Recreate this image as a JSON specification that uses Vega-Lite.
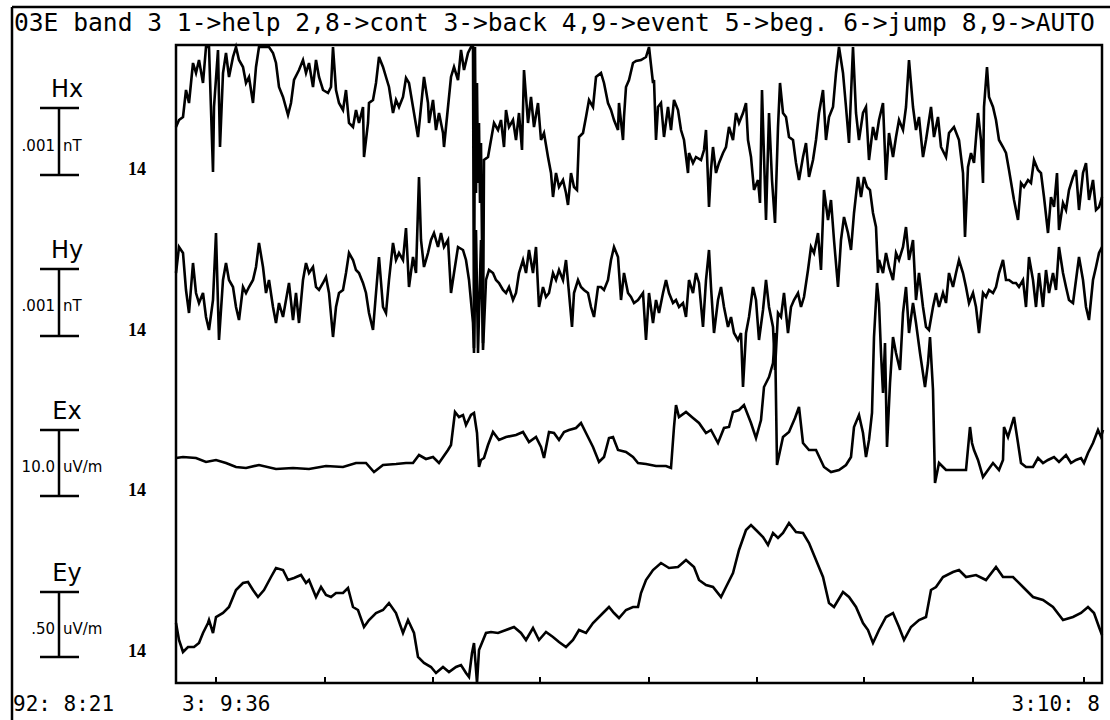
{
"$schema":"https://vega.github.io/schema/vega-lite/v6.json",
"width":926,"height":638,
"autosize":{"type":"none"},
"padding":{"left":176,"top":45,"right":8,"bottom":37},
"background":"white",
"config":{"view":{"stroke":"black","strokeWidth":2.5}},
"datasets":{
"chan":[
{"c":"Hx","s":".001","u":"nT","top":575,"mid":541,"bot":508},
{"c":"Hy","s":".001","u":"nT","top":414,"mid":381,"bot":347},
{"c":"Ex","s":"10.0","u":"uV/m","top":253,"mid":220,"bot":187},
{"c":"Ey","s":".50","u":"uV/m","top":91,"mid":58,"bot":26}],
"ticks":[{"t":40},{"t":149},{"t":257},{"t":364},{"t":473},{"t":581},{"t":688},{"t":797},{"t":908}],
"trace":[
{"c":"Hx","t":0,"v":556},{"c":"Hx","t":3,"v":563},{"c":"Hx","t":7,"v":566},{"c":"Hx","t":10,"v":593},{"c":"Hx","t":13,"v":580},{"c":"Hx","t":17,"v":620},{"c":"Hx","t":20,"v":610},{"c":"Hx","t":23,"v":623},{"c":"Hx","t":27,"v":600},{"c":"Hx","t":30,"v":636},{"c":"Hx","t":33,"v":636},{"c":"Hx","t":37,"v":511},{"c":"Hx","t":38,"v":576},{"c":"Hx","t":42,"v":633},{"c":"Hx","t":44,"v":536},{"c":"Hx","t":47,"v":610},{"c":"Hx","t":50,"v":630},{"c":"Hx","t":53,"v":606},{"c":"Hx","t":57,"v":626},{"c":"Hx","t":60,"v":636},{"c":"Hx","t":63,"v":623},{"c":"Hx","t":67,"v":616},{"c":"Hx","t":70,"v":600},{"c":"Hx","t":73,"v":606},{"c":"Hx","t":77,"v":580},{"c":"Hx","t":80,"v":616},{"c":"Hx","t":83,"v":636},{"c":"Hx","t":93,"v":636},{"c":"Hx","t":97,"v":630},{"c":"Hx","t":100,"v":620},{"c":"Hx","t":103,"v":596},{"c":"Hx","t":107,"v":586},{"c":"Hx","t":112,"v":568},{"c":"Hx","t":115,"v":580},{"c":"Hx","t":118,"v":603},{"c":"Hx","t":123,"v":613},{"c":"Hx","t":127,"v":623},{"c":"Hx","t":130,"v":610},{"c":"Hx","t":133,"v":620},{"c":"Hx","t":137,"v":596},{"c":"Hx","t":140,"v":623},{"c":"Hx","t":143,"v":606},{"c":"Hx","t":147,"v":593},{"c":"Hx","t":152,"v":590},{"c":"Hx","t":155,"v":596},{"c":"Hx","t":157,"v":636},{"c":"Hx","t":160,"v":593},{"c":"Hx","t":163,"v":580},{"c":"Hx","t":167,"v":573},{"c":"Hx","t":170,"v":593},{"c":"Hx","t":173,"v":560},{"c":"Hx","t":177,"v":556},{"c":"Hx","t":180,"v":573},{"c":"Hx","t":183,"v":560},{"c":"Hx","t":187,"v":576},{"c":"Hx","t":188,"v":526},{"c":"Hx","t":192,"v":560},{"c":"Hx","t":193,"v":580},{"c":"Hx","t":197,"v":583},{"c":"Hx","t":200,"v":600},{"c":"Hx","t":203,"v":626},{"c":"Hx","t":207,"v":616},{"c":"Hx","t":210,"v":606},{"c":"Hx","t":213,"v":596},{"c":"Hx","t":217,"v":570},{"c":"Hx","t":220,"v":583},{"c":"Hx","t":223,"v":576},{"c":"Hx","t":227,"v":586},{"c":"Hx","t":230,"v":605},{"c":"Hx","t":233,"v":600},{"c":"Hx","t":237,"v":576},{"c":"Hx","t":242,"v":546},{"c":"Hx","t":245,"v":576},{"c":"Hx","t":248,"v":606},{"c":"Hx","t":252,"v":580},{"c":"Hx","t":253,"v":560},{"c":"Hx","t":257,"v":583},{"c":"Hx","t":260,"v":553},{"c":"Hx","t":263,"v":570},{"c":"Hx","t":267,"v":550},{"c":"Hx","t":268,"v":536},{"c":"Hx","t":272,"v":576},{"c":"Hx","t":275,"v":606},{"c":"Hx","t":278,"v":616},{"c":"Hx","t":282,"v":603},{"c":"Hx","t":285,"v":633},{"c":"Hx","t":288,"v":613},{"c":"Hx","t":292,"v":630},{"c":"Hx","t":295,"v":636},{"c":"Hx","t":297,"v":636},{"c":"Hx","t":298,"v":335},{"c":"Hx","t":299,"v":636},{"c":"Hx","t":300,"v":490},{"c":"Hx","t":301,"v":600},{"c":"Hx","t":302,"v":500},{"c":"Hx","t":303,"v":560},{"c":"Hx","t":304,"v":480},{"c":"Hx","t":305,"v":540},{"c":"Hx","t":307,"v":340},{"c":"Hx","t":308,"v":523},{"c":"Hx","t":312,"v":526},{"c":"Hx","t":315,"v":543},{"c":"Hx","t":318,"v":560},{"c":"Hx","t":322,"v":553},{"c":"Hx","t":325,"v":563},{"c":"Hx","t":328,"v":536},{"c":"Hx","t":330,"v":573},{"c":"Hx","t":333,"v":556},{"c":"Hx","t":337,"v":563},{"c":"Hx","t":340,"v":543},{"c":"Hx","t":343,"v":570},{"c":"Hx","t":346,"v":533},{"c":"Hx","t":348,"v":613},{"c":"Hx","t":352,"v":560},{"c":"Hx","t":355,"v":586},{"c":"Hx","t":358,"v":556},{"c":"Hx","t":362,"v":580},{"c":"Hx","t":365,"v":543},{"c":"Hx","t":368,"v":550},{"c":"Hx","t":372,"v":526},{"c":"Hx","t":375,"v":510},{"c":"Hx","t":377,"v":486},{"c":"Hx","t":380,"v":510},{"c":"Hx","t":383,"v":496},{"c":"Hx","t":387,"v":503},{"c":"Hx","t":390,"v":490},{"c":"Hx","t":392,"v":478},{"c":"Hx","t":395,"v":510},{"c":"Hx","t":398,"v":496},{"c":"Hx","t":401,"v":493},{"c":"Hx","t":403,"v":546},{"c":"Hx","t":407,"v":550},{"c":"Hx","t":410,"v":566},{"c":"Hx","t":413,"v":583},{"c":"Hx","t":417,"v":576},{"c":"Hx","t":420,"v":606},{"c":"Hx","t":425,"v":610},{"c":"Hx","t":428,"v":600},{"c":"Hx","t":432,"v":580},{"c":"Hx","t":435,"v":573},{"c":"Hx","t":438,"v":563},{"c":"Hx","t":442,"v":553},{"c":"Hx","t":443,"v":580},{"c":"Hx","t":447,"v":543},{"c":"Hx","t":448,"v":566},{"c":"Hx","t":450,"v":596},{"c":"Hx","t":453,"v":603},{"c":"Hx","t":457,"v":620},{"c":"Hx","t":460,"v":622},{"c":"Hx","t":465,"v":623},{"c":"Hx","t":470,"v":626},{"c":"Hx","t":473,"v":636},{"c":"Hx","t":477,"v":600},{"c":"Hx","t":478,"v":603},{"c":"Hx","t":480,"v":543},{"c":"Hx","t":482,"v":576},{"c":"Hx","t":485,"v":580},{"c":"Hx","t":488,"v":546},{"c":"Hx","t":492,"v":576},{"c":"Hx","t":495,"v":553},{"c":"Hx","t":498,"v":583},{"c":"Hx","t":502,"v":573},{"c":"Hx","t":505,"v":553},{"c":"Hx","t":508,"v":543},{"c":"Hx","t":512,"v":510},{"c":"Hx","t":513,"v":530},{"c":"Hx","t":517,"v":520},{"c":"Hx","t":520,"v":526},{"c":"Hx","t":525,"v":523},{"c":"Hx","t":528,"v":533},{"c":"Hx","t":530,"v":553},{"c":"Hx","t":532,"v":503},{"c":"Hx","t":533,"v":476},{"c":"Hx","t":535,"v":513},{"c":"Hx","t":537,"v":536},{"c":"Hx","t":540,"v":510},{"c":"Hx","t":543,"v":520},{"c":"Hx","t":547,"v":530},{"c":"Hx","t":550,"v":536},{"c":"Hx","t":553,"v":556},{"c":"Hx","t":557,"v":543},{"c":"Hx","t":560,"v":570},{"c":"Hx","t":563,"v":560},{"c":"Hx","t":567,"v":570},{"c":"Hx","t":570,"v":580},{"c":"Hx","t":572,"v":543},{"c":"Hx","t":575,"v":526},{"c":"Hx","t":578,"v":493},{"c":"Hx","t":582,"v":503},{"c":"Hx","t":584,"v":480},{"c":"Hx","t":586,"v":593},{"c":"Hx","t":588,"v":526},{"c":"Hx","t":590,"v":463},{"c":"Hx","t":593,"v":570},{"c":"Hx","t":596,"v":503},{"c":"Hx","t":599,"v":460},{"c":"Hx","t":602,"v":556},{"c":"Hx","t":604,"v":600},{"c":"Hx","t":607,"v":570},{"c":"Hx","t":610,"v":566},{"c":"Hx","t":613,"v":546},{"c":"Hx","t":617,"v":543},{"c":"Hx","t":620,"v":520},{"c":"Hx","t":623,"v":503},{"c":"Hx","t":627,"v":526},{"c":"Hx","t":630,"v":540},{"c":"Hx","t":633,"v":506},{"c":"Hx","t":637,"v":523},{"c":"Hx","t":640,"v":543},{"c":"Hx","t":643,"v":570},{"c":"Hx","t":647,"v":593},{"c":"Hx","t":650,"v":543},{"c":"Hx","t":653,"v":566},{"c":"Hx","t":657,"v":576},{"c":"Hx","t":660,"v":610},{"c":"Hx","t":663,"v":636},{"c":"Hx","t":667,"v":610},{"c":"Hx","t":670,"v":576},{"c":"Hx","t":673,"v":540},{"c":"Hx","t":677,"v":636},{"c":"Hx","t":680,"v":570},{"c":"Hx","t":683,"v":543},{"c":"Hx","t":687,"v":570},{"c":"Hx","t":690,"v":576},{"c":"Hx","t":693,"v":523},{"c":"Hx","t":697,"v":556},{"c":"Hx","t":700,"v":543},{"c":"Hx","t":703,"v":563},{"c":"Hx","t":707,"v":580},{"c":"Hx","t":710,"v":503},{"c":"Hx","t":713,"v":550},{"c":"Hx","t":717,"v":526},{"c":"Hx","t":720,"v":546},{"c":"Hx","t":723,"v":563},{"c":"Hx","t":727,"v":553},{"c":"Hx","t":730,"v":576},{"c":"Hx","t":733,"v":623},{"c":"Hx","t":737,"v":576},{"c":"Hx","t":740,"v":553},{"c":"Hx","t":743,"v":566},{"c":"Hx","t":747,"v":526},{"c":"Hx","t":750,"v":543},{"c":"Hx","t":755,"v":576},{"c":"Hx","t":758,"v":546},{"c":"Hx","t":762,"v":566},{"c":"Hx","t":765,"v":536},{"c":"Hx","t":770,"v":526},{"c":"Hx","t":773,"v":550},{"c":"Hx","t":778,"v":556},{"c":"Hx","t":783,"v":543},{"c":"Hx","t":787,"v":510},{"c":"Hx","t":789,"v":446},{"c":"Hx","t":792,"v":516},{"c":"Hx","t":795,"v":530},{"c":"Hx","t":798,"v":520},{"c":"Hx","t":802,"v":570},{"c":"Hx","t":805,"v":543},{"c":"Hx","t":807,"v":500},{"c":"Hx","t":808,"v":576},{"c":"Hx","t":811,"v":616},{"c":"Hx","t":813,"v":586},{"c":"Hx","t":817,"v":576},{"c":"Hx","t":820,"v":563},{"c":"Hx","t":823,"v":543},{"c":"Hx","t":827,"v":536},{"c":"Hx","t":830,"v":530},{"c":"Hx","t":833,"v":513},{"c":"Hx","t":838,"v":483},{"c":"Hx","t":842,"v":463},{"c":"Hx","t":845,"v":500},{"c":"Hx","t":848,"v":496},{"c":"Hx","t":852,"v":503},{"c":"Hx","t":855,"v":500},{"c":"Hx","t":858,"v":523},{"c":"Hx","t":862,"v":513},{"c":"Hx","t":865,"v":510},{"c":"Hx","t":868,"v":486},{"c":"Hx","t":872,"v":450},{"c":"Hx","t":875,"v":486},{"c":"Hx","t":878,"v":476},{"c":"Hx","t":881,"v":510},{"c":"Hx","t":883,"v":453},{"c":"Hx","t":887,"v":480},{"c":"Hx","t":890,"v":473},{"c":"Hx","t":893,"v":493},{"c":"Hx","t":897,"v":506},{"c":"Hx","t":900,"v":513},{"c":"Hx","t":903,"v":473},{"c":"Hx","t":907,"v":510},{"c":"Hx","t":910,"v":520},{"c":"Hx","t":913,"v":483},{"c":"Hx","t":917,"v":503},{"c":"Hx","t":920,"v":473},{"c":"Hx","t":923,"v":476},{"c":"Hx","t":926,"v":486},
{"c":"Hy","t":0,"v":410},{"c":"Hy","t":3,"v":436},{"c":"Hy","t":7,"v":430},{"c":"Hy","t":10,"v":393},{"c":"Hy","t":13,"v":370},{"c":"Hy","t":17,"v":420},{"c":"Hy","t":20,"v":390},{"c":"Hy","t":23,"v":380},{"c":"Hy","t":27,"v":390},{"c":"Hy","t":30,"v":366},{"c":"Hy","t":33,"v":353},{"c":"Hy","t":37,"v":383},{"c":"Hy","t":40,"v":450},{"c":"Hy","t":43,"v":343},{"c":"Hy","t":47,"v":403},{"c":"Hy","t":50,"v":420},{"c":"Hy","t":53,"v":403},{"c":"Hy","t":57,"v":396},{"c":"Hy","t":60,"v":376},{"c":"Hy","t":63,"v":363},{"c":"Hy","t":67,"v":396},{"c":"Hy","t":70,"v":390},{"c":"Hy","t":73,"v":396},{"c":"Hy","t":77,"v":403},{"c":"Hy","t":80,"v":416},{"c":"Hy","t":83,"v":440},{"c":"Hy","t":87,"v":416},{"c":"Hy","t":90,"v":390},{"c":"Hy","t":93,"v":403},{"c":"Hy","t":97,"v":376},{"c":"Hy","t":100,"v":360},{"c":"Hy","t":103,"v":380},{"c":"Hy","t":107,"v":366},{"c":"Hy","t":110,"v":383},{"c":"Hy","t":113,"v":400},{"c":"Hy","t":117,"v":363},{"c":"Hy","t":120,"v":390},{"c":"Hy","t":123,"v":360},{"c":"Hy","t":127,"v":403},{"c":"Hy","t":130,"v":420},{"c":"Hy","t":133,"v":410},{"c":"Hy","t":137,"v":416},{"c":"Hy","t":140,"v":396},{"c":"Hy","t":143,"v":393},{"c":"Hy","t":147,"v":400},{"c":"Hy","t":150,"v":406},{"c":"Hy","t":153,"v":390},{"c":"Hy","t":157,"v":346},{"c":"Hy","t":160,"v":376},{"c":"Hy","t":163,"v":390},{"c":"Hy","t":167,"v":393},{"c":"Hy","t":170,"v":410},{"c":"Hy","t":173,"v":430},{"c":"Hy","t":177,"v":423},{"c":"Hy","t":180,"v":413},{"c":"Hy","t":183,"v":410},{"c":"Hy","t":187,"v":400},{"c":"Hy","t":190,"v":390},{"c":"Hy","t":193,"v":370},{"c":"Hy","t":197,"v":353},{"c":"Hy","t":200,"v":390},{"c":"Hy","t":203,"v":426},{"c":"Hy","t":207,"v":376},{"c":"Hy","t":210,"v":370},{"c":"Hy","t":213,"v":403},{"c":"Hy","t":217,"v":440},{"c":"Hy","t":220,"v":423},{"c":"Hy","t":223,"v":430},{"c":"Hy","t":227,"v":423},{"c":"Hy","t":230,"v":455},{"c":"Hy","t":233,"v":396},{"c":"Hy","t":237,"v":426},{"c":"Hy","t":240,"v":410},{"c":"Hy","t":243,"v":506},{"c":"Hy","t":245,"v":443},{"c":"Hy","t":248,"v":416},{"c":"Hy","t":252,"v":430},{"c":"Hy","t":255,"v":443},{"c":"Hy","t":258,"v":450},{"c":"Hy","t":262,"v":436},{"c":"Hy","t":265,"v":450},{"c":"Hy","t":268,"v":436},{"c":"Hy","t":272,"v":443},{"c":"Hy","t":275,"v":390},{"c":"Hy","t":278,"v":410},{"c":"Hy","t":282,"v":436},{"c":"Hy","t":287,"v":433},{"c":"Hy","t":290,"v":423},{"c":"Hy","t":293,"v":403},{"c":"Hy","t":297,"v":360},{"c":"Hy","t":298,"v":330},{"c":"Hy","t":300,"v":453},{"c":"Hy","t":302,"v":330},{"c":"Hy","t":305,"v":443},{"c":"Hy","t":307,"v":333},{"c":"Hy","t":310,"v":403},{"c":"Hy","t":313,"v":413},{"c":"Hy","t":317,"v":410},{"c":"Hy","t":320,"v":403},{"c":"Hy","t":323,"v":400},{"c":"Hy","t":327,"v":393},{"c":"Hy","t":330,"v":390},{"c":"Hy","t":333,"v":396},{"c":"Hy","t":337,"v":383},{"c":"Hy","t":340,"v":390},{"c":"Hy","t":343,"v":410},{"c":"Hy","t":347,"v":423},{"c":"Hy","t":350,"v":410},{"c":"Hy","t":353,"v":433},{"c":"Hy","t":357,"v":410},{"c":"Hy","t":360,"v":436},{"c":"Hy","t":363,"v":376},{"c":"Hy","t":367,"v":396},{"c":"Hy","t":370,"v":386},{"c":"Hy","t":373,"v":390},{"c":"Hy","t":377,"v":410},{"c":"Hy","t":380,"v":403},{"c":"Hy","t":383,"v":413},{"c":"Hy","t":387,"v":403},{"c":"Hy","t":390,"v":423},{"c":"Hy","t":393,"v":390},{"c":"Hy","t":396,"v":356},{"c":"Hy","t":398,"v":390},{"c":"Hy","t":402,"v":403},{"c":"Hy","t":405,"v":396},{"c":"Hy","t":408,"v":393},{"c":"Hy","t":412,"v":390},{"c":"Hy","t":415,"v":376},{"c":"Hy","t":418,"v":366},{"c":"Hy","t":422,"v":396},{"c":"Hy","t":425,"v":396},{"c":"Hy","t":428,"v":393},{"c":"Hy","t":432,"v":403},{"c":"Hy","t":435,"v":423},{"c":"Hy","t":438,"v":436},{"c":"Hy","t":442,"v":426},{"c":"Hy","t":445,"v":383},{"c":"Hy","t":448,"v":410},{"c":"Hy","t":452,"v":390},{"c":"Hy","t":455,"v":386},{"c":"Hy","t":458,"v":380},{"c":"Hy","t":462,"v":383},{"c":"Hy","t":467,"v":390},{"c":"Hy","t":470,"v":343},{"c":"Hy","t":473,"v":390},{"c":"Hy","t":477,"v":360},{"c":"Hy","t":480,"v":383},{"c":"Hy","t":483,"v":370},{"c":"Hy","t":487,"v":390},{"c":"Hy","t":490,"v":403},{"c":"Hy","t":493,"v":390},{"c":"Hy","t":497,"v":380},{"c":"Hy","t":500,"v":383},{"c":"Hy","t":503,"v":376},{"c":"Hy","t":507,"v":380},{"c":"Hy","t":510,"v":366},{"c":"Hy","t":513,"v":403},{"c":"Hy","t":517,"v":390},{"c":"Hy","t":520,"v":410},{"c":"Hy","t":523,"v":400},{"c":"Hy","t":527,"v":356},{"c":"Hy","t":530,"v":403},{"c":"Hy","t":533,"v":433},{"c":"Hy","t":535,"v":396},{"c":"Hy","t":538,"v":350},{"c":"Hy","t":542,"v":383},{"c":"Hy","t":545,"v":396},{"c":"Hy","t":548,"v":376},{"c":"Hy","t":552,"v":356},{"c":"Hy","t":555,"v":366},{"c":"Hy","t":558,"v":350},{"c":"Hy","t":562,"v":343},{"c":"Hy","t":565,"v":350},{"c":"Hy","t":567,"v":296},{"c":"Hy","t":570,"v":350},{"c":"Hy","t":573,"v":366},{"c":"Hy","t":577,"v":396},{"c":"Hy","t":580,"v":383},{"c":"Hy","t":583,"v":343},{"c":"Hy","t":587,"v":373},{"c":"Hy","t":590,"v":403},{"c":"Hy","t":593,"v":376},{"c":"Hy","t":597,"v":356},{"c":"Hy","t":599,"v":313},{"c":"Hy","t":602,"v":370},{"c":"Hy","t":605,"v":366},{"c":"Hy","t":608,"v":390},{"c":"Hy","t":612,"v":350},{"c":"Hy","t":615,"v":376},{"c":"Hy","t":618,"v":383},{"c":"Hy","t":622,"v":390},{"c":"Hy","t":625,"v":376},{"c":"Hy","t":628,"v":386},{"c":"Hy","t":632,"v":413},{"c":"Hy","t":635,"v":436},{"c":"Hy","t":638,"v":430},{"c":"Hy","t":642,"v":450},{"c":"Hy","t":645,"v":413},{"c":"Hy","t":648,"v":493},{"c":"Hy","t":652,"v":463},{"c":"Hy","t":655,"v":483},{"c":"Hy","t":658,"v":443},{"c":"Hy","t":662,"v":396},{"c":"Hy","t":665,"v":443},{"c":"Hy","t":668,"v":466},{"c":"Hy","t":672,"v":450},{"c":"Hy","t":675,"v":433},{"c":"Hy","t":678,"v":470},{"c":"Hy","t":682,"v":506},{"c":"Hy","t":685,"v":486},{"c":"Hy","t":688,"v":506},{"c":"Hy","t":691,"v":496},{"c":"Hy","t":694,"v":493},{"c":"Hy","t":697,"v":470},{"c":"Hy","t":700,"v":456},{"c":"Hy","t":702,"v":410},{"c":"Hy","t":703,"v":423},{"c":"Hy","t":707,"v":410},{"c":"Hy","t":710,"v":430},{"c":"Hy","t":713,"v":416},{"c":"Hy","t":717,"v":403},{"c":"Hy","t":720,"v":430},{"c":"Hy","t":723,"v":423},{"c":"Hy","t":727,"v":436},{"c":"Hy","t":730,"v":456},{"c":"Hy","t":733,"v":423},{"c":"Hy","t":737,"v":443},{"c":"Hy","t":740,"v":383},{"c":"Hy","t":743,"v":410},{"c":"Hy","t":747,"v":376},{"c":"Hy","t":750,"v":356},{"c":"Hy","t":753,"v":353},{"c":"Hy","t":757,"v":376},{"c":"Hy","t":760,"v":390},{"c":"Hy","t":763,"v":376},{"c":"Hy","t":767,"v":390},{"c":"Hy","t":770,"v":380},{"c":"Hy","t":773,"v":410},{"c":"Hy","t":777,"v":396},{"c":"Hy","t":780,"v":410},{"c":"Hy","t":783,"v":423},{"c":"Hy","t":787,"v":410},{"c":"Hy","t":790,"v":396},{"c":"Hy","t":793,"v":380},{"c":"Hy","t":797,"v":390},{"c":"Hy","t":800,"v":376},{"c":"Hy","t":803,"v":350},{"c":"Hy","t":807,"v":390},{"c":"Hy","t":810,"v":386},{"c":"Hy","t":813,"v":393},{"c":"Hy","t":817,"v":390},{"c":"Hy","t":820,"v":396},{"c":"Hy","t":823,"v":410},{"c":"Hy","t":827,"v":423},{"c":"Hy","t":830,"v":403},{"c":"Hy","t":833,"v":403},{"c":"Hy","t":837,"v":400},{"c":"Hy","t":840,"v":400},{"c":"Hy","t":843,"v":396},{"c":"Hy","t":847,"v":403},{"c":"Hy","t":850,"v":376},{"c":"Hy","t":853,"v":426},{"c":"Hy","t":857,"v":403},{"c":"Hy","t":860,"v":376},{"c":"Hy","t":863,"v":410},{"c":"Hy","t":867,"v":376},{"c":"Hy","t":870,"v":413},{"c":"Hy","t":873,"v":390},{"c":"Hy","t":877,"v":410},{"c":"Hy","t":880,"v":393},{"c":"Hy","t":883,"v":436},{"c":"Hy","t":887,"v":410},{"c":"Hy","t":890,"v":396},{"c":"Hy","t":893,"v":383},{"c":"Hy","t":897,"v":380},{"c":"Hy","t":900,"v":403},{"c":"Hy","t":903,"v":426},{"c":"Hy","t":907,"v":403},{"c":"Hy","t":910,"v":376},{"c":"Hy","t":913,"v":363},{"c":"Hy","t":917,"v":403},{"c":"Hy","t":920,"v":416},{"c":"Hy","t":923,"v":430},{"c":"Hy","t":926,"v":436},
{"c":"Ex","t":0,"v":225},{"c":"Ex","t":7,"v":226},{"c":"Ex","t":20,"v":225},{"c":"Ex","t":30,"v":221},{"c":"Ex","t":40,"v":223},{"c":"Ex","t":50,"v":220},{"c":"Ex","t":60,"v":216},{"c":"Ex","t":70,"v":215},{"c":"Ex","t":83,"v":218},{"c":"Ex","t":100,"v":214},{"c":"Ex","t":117,"v":215},{"c":"Ex","t":133,"v":214},{"c":"Ex","t":150,"v":217},{"c":"Ex","t":167,"v":216},{"c":"Ex","t":180,"v":220},{"c":"Ex","t":190,"v":220},{"c":"Ex","t":198,"v":211},{"c":"Ex","t":207,"v":218},{"c":"Ex","t":220,"v":219},{"c":"Ex","t":230,"v":220},{"c":"Ex","t":237,"v":220},{"c":"Ex","t":243,"v":228},{"c":"Ex","t":250,"v":224},{"c":"Ex","t":257,"v":226},{"c":"Ex","t":263,"v":220},{"c":"Ex","t":272,"v":233},{"c":"Ex","t":275,"v":238},{"c":"Ex","t":279,"v":271},{"c":"Ex","t":283,"v":266},{"c":"Ex","t":287,"v":268},{"c":"Ex","t":290,"v":258},{"c":"Ex","t":295,"v":268},{"c":"Ex","t":298,"v":270},{"c":"Ex","t":301,"v":250},{"c":"Ex","t":303,"v":216},{"c":"Ex","t":305,"v":223},{"c":"Ex","t":308,"v":225},{"c":"Ex","t":312,"v":238},{"c":"Ex","t":317,"v":251},{"c":"Ex","t":323,"v":243},{"c":"Ex","t":330,"v":246},{"c":"Ex","t":340,"v":248},{"c":"Ex","t":347,"v":251},{"c":"Ex","t":353,"v":241},{"c":"Ex","t":360,"v":246},{"c":"Ex","t":365,"v":236},{"c":"Ex","t":368,"v":225},{"c":"Ex","t":373,"v":251},{"c":"Ex","t":378,"v":250},{"c":"Ex","t":383,"v":243},{"c":"Ex","t":388,"v":251},{"c":"Ex","t":393,"v":253},{"c":"Ex","t":400,"v":255},{"c":"Ex","t":405,"v":260},{"c":"Ex","t":410,"v":250},{"c":"Ex","t":417,"v":236},{"c":"Ex","t":423,"v":221},{"c":"Ex","t":428,"v":226},{"c":"Ex","t":433,"v":245},{"c":"Ex","t":437,"v":246},{"c":"Ex","t":442,"v":233},{"c":"Ex","t":450,"v":231},{"c":"Ex","t":457,"v":226},{"c":"Ex","t":462,"v":220},{"c":"Ex","t":470,"v":219},{"c":"Ex","t":480,"v":217},{"c":"Ex","t":490,"v":217},{"c":"Ex","t":495,"v":215},{"c":"Ex","t":498,"v":256},{"c":"Ex","t":500,"v":278},{"c":"Ex","t":503,"v":266},{"c":"Ex","t":510,"v":271},{"c":"Ex","t":517,"v":265},{"c":"Ex","t":523,"v":260},{"c":"Ex","t":530,"v":250},{"c":"Ex","t":535,"v":253},{"c":"Ex","t":542,"v":240},{"c":"Ex","t":548,"v":255},{"c":"Ex","t":553,"v":256},{"c":"Ex","t":557,"v":271},{"c":"Ex","t":563,"v":273},{"c":"Ex","t":568,"v":278},{"c":"Ex","t":575,"v":260},{"c":"Ex","t":580,"v":245},{"c":"Ex","t":585,"v":263},{"c":"Ex","t":588,"v":296},{"c":"Ex","t":593,"v":306},{"c":"Ex","t":597,"v":320},{"c":"Ex","t":599,"v":350},{"c":"Ex","t":601,"v":218},{"c":"Ex","t":607,"v":246},{"c":"Ex","t":613,"v":251},{"c":"Ex","t":619,"v":265},{"c":"Ex","t":623,"v":276},{"c":"Ex","t":627,"v":240},{"c":"Ex","t":633,"v":233},{"c":"Ex","t":640,"v":233},{"c":"Ex","t":648,"v":216},{"c":"Ex","t":655,"v":211},{"c":"Ex","t":663,"v":213},{"c":"Ex","t":670,"v":218},{"c":"Ex","t":675,"v":226},{"c":"Ex","t":678,"v":256},{"c":"Ex","t":683,"v":268},{"c":"Ex","t":687,"v":250},{"c":"Ex","t":690,"v":226},{"c":"Ex","t":693,"v":243},{"c":"Ex","t":696,"v":270},{"c":"Ex","t":698,"v":346},{"c":"Ex","t":701,"v":400},{"c":"Ex","t":703,"v":380},{"c":"Ex","t":705,"v":330},{"c":"Ex","t":707,"v":290},{"c":"Ex","t":709,"v":340},{"c":"Ex","t":711,"v":236},{"c":"Ex","t":714,"v":300},{"c":"Ex","t":717,"v":346},{"c":"Ex","t":720,"v":330},{"c":"Ex","t":724,"v":313},{"c":"Ex","t":727,"v":370},{"c":"Ex","t":730,"v":396},{"c":"Ex","t":733,"v":350},{"c":"Ex","t":737,"v":380},{"c":"Ex","t":740,"v":360},{"c":"Ex","t":744,"v":330},{"c":"Ex","t":749,"v":296},{"c":"Ex","t":752,"v":320},{"c":"Ex","t":754,"v":346},{"c":"Ex","t":757,"v":293},{"c":"Ex","t":759,"v":200},{"c":"Ex","t":763,"v":220},{"c":"Ex","t":770,"v":213},{"c":"Ex","t":780,"v":213},{"c":"Ex","t":790,"v":213},{"c":"Ex","t":794,"v":256},{"c":"Ex","t":796,"v":240},{"c":"Ex","t":798,"v":233},{"c":"Ex","t":802,"v":223},{"c":"Ex","t":807,"v":206},{"c":"Ex","t":812,"v":213},{"c":"Ex","t":817,"v":220},{"c":"Ex","t":823,"v":213},{"c":"Ex","t":827,"v":223},{"c":"Ex","t":828,"v":256},{"c":"Ex","t":832,"v":246},{"c":"Ex","t":835,"v":256},{"c":"Ex","t":838,"v":266},{"c":"Ex","t":842,"v":240},{"c":"Ex","t":845,"v":220},{"c":"Ex","t":850,"v":216},{"c":"Ex","t":857,"v":216},{"c":"Ex","t":862,"v":225},{"c":"Ex","t":867,"v":220},{"c":"Ex","t":872,"v":223},{"c":"Ex","t":878,"v":226},{"c":"Ex","t":883,"v":221},{"c":"Ex","t":890,"v":228},{"c":"Ex","t":895,"v":220},{"c":"Ex","t":900,"v":223},{"c":"Ex","t":905,"v":225},{"c":"Ex","t":908,"v":220},{"c":"Ex","t":912,"v":230},{"c":"Ex","t":917,"v":240},{"c":"Ex","t":922,"v":253},{"c":"Ex","t":925,"v":246},{"c":"Ex","t":927,"v":253},
{"c":"Ey","t":0,"v":60},{"c":"Ey","t":3,"v":43},{"c":"Ey","t":7,"v":31},{"c":"Ey","t":12,"v":36},{"c":"Ey","t":18,"v":36},{"c":"Ey","t":23,"v":40},{"c":"Ey","t":27,"v":50},{"c":"Ey","t":32,"v":60},{"c":"Ey","t":33,"v":63},{"c":"Ey","t":37,"v":50},{"c":"Ey","t":40,"v":66},{"c":"Ey","t":47,"v":70},{"c":"Ey","t":53,"v":76},{"c":"Ey","t":60,"v":93},{"c":"Ey","t":67,"v":100},{"c":"Ey","t":72,"v":101},{"c":"Ey","t":77,"v":93},{"c":"Ey","t":82,"v":86},{"c":"Ey","t":88,"v":93},{"c":"Ey","t":95,"v":106},{"c":"Ey","t":100,"v":115},{"c":"Ey","t":107,"v":113},{"c":"Ey","t":112,"v":103},{"c":"Ey","t":118,"v":105},{"c":"Ey","t":125,"v":108},{"c":"Ey","t":130,"v":100},{"c":"Ey","t":133,"v":103},{"c":"Ey","t":140,"v":86},{"c":"Ey","t":145,"v":96},{"c":"Ey","t":150,"v":88},{"c":"Ey","t":155,"v":86},{"c":"Ey","t":160,"v":90},{"c":"Ey","t":167,"v":90},{"c":"Ey","t":172,"v":95},{"c":"Ey","t":177,"v":76},{"c":"Ey","t":182,"v":73},{"c":"Ey","t":188,"v":56},{"c":"Ey","t":193,"v":63},{"c":"Ey","t":200,"v":70},{"c":"Ey","t":207,"v":73},{"c":"Ey","t":213,"v":80},{"c":"Ey","t":220,"v":70},{"c":"Ey","t":227,"v":50},{"c":"Ey","t":232,"v":63},{"c":"Ey","t":238,"v":50},{"c":"Ey","t":242,"v":26},{"c":"Ey","t":248,"v":20},{"c":"Ey","t":255,"v":16},{"c":"Ey","t":260,"v":10},{"c":"Ey","t":267,"v":16},{"c":"Ey","t":273,"v":11},{"c":"Ey","t":280,"v":16},{"c":"Ey","t":285,"v":18},{"c":"Ey","t":290,"v":10},{"c":"Ey","t":293,"v":6},{"c":"Ey","t":296,"v":30},{"c":"Ey","t":298,"v":40},{"c":"Ey","t":301,"v":0},{"c":"Ey","t":303,"v":33},{"c":"Ey","t":310,"v":50},{"c":"Ey","t":315,"v":51},{"c":"Ey","t":322,"v":50},{"c":"Ey","t":330,"v":53},{"c":"Ey","t":338,"v":56},{"c":"Ey","t":345,"v":50},{"c":"Ey","t":350,"v":43},{"c":"Ey","t":357,"v":55},{"c":"Ey","t":363,"v":43},{"c":"Ey","t":370,"v":51},{"c":"Ey","t":377,"v":46},{"c":"Ey","t":383,"v":41},{"c":"Ey","t":390,"v":36},{"c":"Ey","t":397,"v":43},{"c":"Ey","t":403,"v":53},{"c":"Ey","t":410,"v":50},{"c":"Ey","t":417,"v":60},{"c":"Ey","t":427,"v":70},{"c":"Ey","t":433,"v":76},{"c":"Ey","t":438,"v":70},{"c":"Ey","t":443,"v":65},{"c":"Ey","t":450,"v":73},{"c":"Ey","t":457,"v":76},{"c":"Ey","t":462,"v":76},{"c":"Ey","t":465,"v":90},{"c":"Ey","t":470,"v":103},{"c":"Ey","t":477,"v":113},{"c":"Ey","t":485,"v":120},{"c":"Ey","t":493,"v":115},{"c":"Ey","t":502,"v":116},{"c":"Ey","t":510,"v":123},{"c":"Ey","t":518,"v":116},{"c":"Ey","t":523,"v":103},{"c":"Ey","t":530,"v":98},{"c":"Ey","t":537,"v":96},{"c":"Ey","t":545,"v":86},{"c":"Ey","t":550,"v":96},{"c":"Ey","t":557,"v":110},{"c":"Ey","t":563,"v":133},{"c":"Ey","t":570,"v":153},{"c":"Ey","t":575,"v":158},{"c":"Ey","t":580,"v":153},{"c":"Ey","t":587,"v":146},{"c":"Ey","t":592,"v":138},{"c":"Ey","t":597,"v":150},{"c":"Ey","t":602,"v":145},{"c":"Ey","t":607,"v":150},{"c":"Ey","t":613,"v":160},{"c":"Ey","t":620,"v":151},{"c":"Ey","t":627,"v":150},{"c":"Ey","t":633,"v":140},{"c":"Ey","t":640,"v":123},{"c":"Ey","t":647,"v":106},{"c":"Ey","t":653,"v":80},{"c":"Ey","t":658,"v":76},{"c":"Ey","t":667,"v":91},{"c":"Ey","t":673,"v":86},{"c":"Ey","t":680,"v":76},{"c":"Ey","t":687,"v":60},{"c":"Ey","t":692,"v":53},{"c":"Ey","t":697,"v":40},{"c":"Ey","t":703,"v":53},{"c":"Ey","t":710,"v":66},{"c":"Ey","t":717,"v":70},{"c":"Ey","t":723,"v":56},{"c":"Ey","t":728,"v":43},{"c":"Ey","t":735,"v":56},{"c":"Ey","t":743,"v":63},{"c":"Ey","t":750,"v":66},{"c":"Ey","t":755,"v":93},{"c":"Ey","t":760,"v":96},{"c":"Ey","t":767,"v":106},{"c":"Ey","t":777,"v":111},{"c":"Ey","t":783,"v":113},{"c":"Ey","t":790,"v":106},{"c":"Ey","t":800,"v":108},{"c":"Ey","t":810,"v":103},{"c":"Ey","t":820,"v":116},{"c":"Ey","t":827,"v":106},{"c":"Ey","t":837,"v":106},{"c":"Ey","t":847,"v":96},{"c":"Ey","t":857,"v":86},{"c":"Ey","t":867,"v":83},{"c":"Ey","t":877,"v":76},{"c":"Ey","t":887,"v":63},{"c":"Ey","t":897,"v":66},{"c":"Ey","t":905,"v":70},{"c":"Ey","t":912,"v":76},{"c":"Ey","t":918,"v":70},{"c":"Ey","t":923,"v":56},{"c":"Ey","t":926,"v":48}
]},
"encoding":{
"x":{"type":"quantitative","scale":{"domain":[0,926],"nice":false,"zero":false},"axis":null},
"y":{"type":"quantitative","scale":{"domain":[0,638],"nice":false,"zero":false},"axis":null}
},
"layer":[
{"data":{"name":"trace"},"mark":{"type":"line","color":"black","strokeWidth":2.6,"strokeJoin":"miter"},
 "encoding":{"x":{"field":"t","type":"quantitative"},"y":{"field":"v","type":"quantitative"},"detail":{"field":"c"}}},
{"data":{"name":"ticks"},"mark":{"type":"rule","color":"black","strokeWidth":2},
 "encoding":{"x":{"field":"t","type":"quantitative"},"y":{"datum":0},"y2":{"datum":6}}},
{"data":{"values":[{}]},"mark":{"type":"rule","color":"black","strokeWidth":2.5},
 "encoding":{"x":{"datum":-164},"x2":{"datum":940},"y":{"datum":676}}},
{"data":{"values":[{}]},"mark":{"type":"rule","color":"black","strokeWidth":2.5},
 "encoding":{"x":{"datum":-164},"y":{"datum":676},"y2":{"datum":-50}}},
{"data":{"values":[{}]},"mark":{"type":"text","font":"DejaVu Sans Mono","fontSize":24.6,"align":"left","baseline":"middle","color":"black"},
 "encoding":{"x":{"datum":-162},"y":{"datum":659},"text":{"value":"03E band 3 1->help 2,8->cont 3->back 4,9->event 5->beg. 6->jump 8,9->AUTO"}}},
{"data":{"values":[{}]},"mark":{"type":"text","font":"DejaVu Sans Mono","fontSize":21,"align":"left","baseline":"middle","color":"black"},
 "encoding":{"x":{"datum":-163},"y":{"datum":-22},"text":{"value":"92:  8:21"}}},
{"data":{"values":[{}]},"mark":{"type":"text","font":"DejaVu Sans Mono","fontSize":21,"align":"left","baseline":"middle","color":"black"},
 "encoding":{"x":{"datum":6},"y":{"datum":-22},"text":{"value":"3:  9:36"}}},
{"data":{"values":[{}]},"mark":{"type":"text","font":"DejaVu Sans Mono","fontSize":21,"align":"right","baseline":"middle","color":"black"},
 "encoding":{"x":{"datum":924},"y":{"datum":-22},"text":{"value":"3:10:  8"}}},
{"data":{"name":"chan"},"mark":{"type":"rule","color":"black","strokeWidth":2.5},
 "encoding":{"x":{"datum":-117},"y":{"field":"top","type":"quantitative"},"y2":{"field":"bot"}}},
{"data":{"name":"chan"},"mark":{"type":"rule","color":"black","strokeWidth":2.5},
 "encoding":{"x":{"datum":-136},"x2":{"datum":-97},"y":{"field":"top","type":"quantitative"}}},
{"data":{"name":"chan"},"mark":{"type":"rule","color":"black","strokeWidth":2.5},
 "encoding":{"x":{"datum":-136},"x2":{"datum":-97},"y":{"field":"bot","type":"quantitative"}}},
{"data":{"name":"chan"},"mark":{"type":"text","font":"DejaVu Sans","fontSize":24,"align":"center","baseline":"alphabetic","dy":-11,"color":"black"},
 "encoding":{"x":{"datum":-109},"y":{"field":"top","type":"quantitative"},"text":{"field":"c"}}},
{"data":{"name":"chan"},"mark":{"type":"text","font":"DejaVu Sans","fontSize":15,"align":"right","baseline":"middle","dy":4,"color":"black"},
 "encoding":{"x":{"datum":-121},"y":{"field":"mid","type":"quantitative"},"text":{"field":"s"}}},
{"data":{"name":"chan"},"mark":{"type":"text","font":"DejaVu Sans","fontSize":15,"align":"left","baseline":"middle","dy":4,"color":"black"},
 "encoding":{"x":{"datum":-113},"y":{"field":"mid","type":"quantitative"},"text":{"field":"u"}}},
{"data":{"name":"chan"},"mark":{"type":"text","font":"Liberation Serif","fontWeight":"bold","fontSize":18,"align":"center","baseline":"middle","dy":-5,"color":"black"},
 "encoding":{"x":{"datum":-39},"y":{"field":"bot","type":"quantitative"},"text":{"value":"14"}}}
]
}
